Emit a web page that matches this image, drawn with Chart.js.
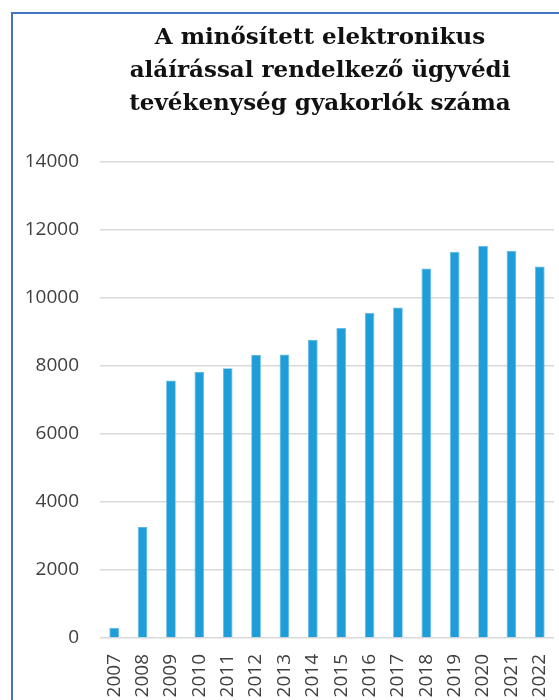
<!DOCTYPE html>
<html>
<head>
<meta charset="utf-8">
<script src="https://cdn.jsdelivr.net/npm/chart.js@4"></script>
<style>
  html, body { margin: 0; padding: 0; background: #fff; overflow: hidden; }
  #frame {
    position: absolute; left: 11px; top: 12px; width: 700px; height: 800px;
    border-left: 2px solid #4472C4; border-top: 2px solid #4472C4;
  }
  #grafico { position: absolute; left: 0; top: 0; }
</style>
</head>
<body>
<div id="frame"></div>
<canvas id="grafico" width="640" height="720"></canvas>
<script>
// Datos
const evek = ['2007', '2008', '2009', '2010', '2011', '2012', '2013', '2014',
  '2015', '2016', '2017', '2018', '2019', '2020', '2021', '2022'];
const gyakorlok = [300, 3260, 7570, 7815, 7930, 8315, 8335, 8755,
  9110, 9550, 9715, 10860, 11350, 11520, 11380, 10920];
const yTicks = [0, 2000, 4000, 6000, 8000, 10000, 12000, 14000];
const cim = ['A minősített elektronikus', 'aláírással rendelkező ügyvédi', 'tevékenység gyakorlók száma'];

const ctx = document.getElementById('grafico').getContext('2d');
const grafico = new Chart(ctx, {
  type: 'bar',
  data: {
    labels: evek,
    datasets: [{
      data: gyakorlok,
      backgroundColor: '#1F9DD8',
      borderColor: '#5FB8E4',
      borderWidth: 0.8,
      categoryPercentage: 1,
      barPercentage: 0.34
    }]
  },
  options: {
    responsive: false,
    animation: false,
    layout: { padding: 0 },
    plugins: {
      legend: { display: false },
      tooltip: { enabled: false },
      title: {
        display: true,
        text: cim,
        color: '#111',
        font: { family: 'DejaVu Serif', size: 23, weight: 'bold', lineHeight: 1.43 },
        padding: { top: 22, bottom: 41 }
      }
    },
    scales: {
      x: {
        grid: { display: false },
        border: { display: false },
        ticks: {
          color: '#404040',
          font: { family: 'Open Sans', size: 19 },
          minRotation: 90,
          maxRotation: 90,
          padding: 8
        },
        afterFit: (s) => { s.height = 82; }
      },
      y: {
        min: 0,
        max: yTicks[yTicks.length - 1],
        afterBuildTicks: (s) => { s.ticks = yTicks.map(v => ({ value: v })); },
        grid: { color: '#d9d9d9', lineWidth: 1.5, drawTicks: false },
        border: { display: false },
        ticks: {
          color: '#404040',
          font: { family: 'Open Sans', size: 19 },
          padding: 21,
          callback: (v) => String(v)
        },
        afterFit: (s) => { s.width = 100; }
      },
      // eje vacío a la derecha, solo para centrar el título como en el original
      jobb: {
        position: 'right',
        grid: { display: false },
        border: { display: false },
        ticks: { display: false },
        afterFit: (s) => { s.width = 86; }
      }
    }
  }
});
</script>
</body>
</html>
